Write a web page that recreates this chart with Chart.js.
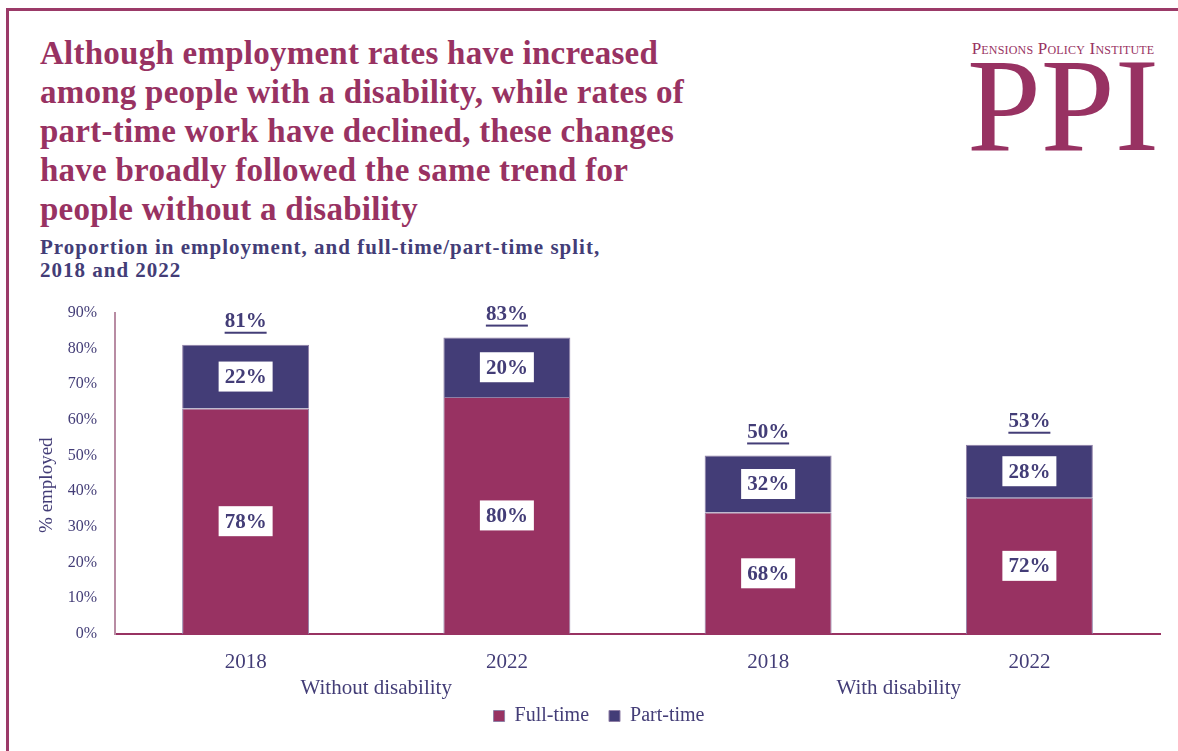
<!DOCTYPE html>
<html>
<head>
<meta charset="utf-8">
<script src="https://cdn.jsdelivr.net/npm/chart.js@4.4.1/dist/chart.umd.min.js"></script>
<style>
  html, body { margin: 0; padding: 0; background: #fff; }
  body { width: 1178px; height: 751px; position: relative; overflow: hidden;
         font-family: "Palatino Linotype", "Book Antiqua", Palatino, "Liberation Serif", serif; }
  .frame { position: absolute; left: 6px; top: 8px; width: 1300px; height: 900px;
           border: 3px solid #9b3a68; box-sizing: border-box; }
  h1 { position: absolute; left: 40px; top: 34px; margin: 0; width: 720px;
       font-size: 33px; line-height: 39px; letter-spacing: 0.25px; font-weight: bold; color: #983262; }
  h2 { position: absolute; left: 40px; top: 236px; margin: 0; width: 680px;
       font-size: 21px; line-height: 23px; letter-spacing: 1px; font-weight: bold; color: #433d77; }
  .logo { position: absolute; left: 958px; top: 40px; width: 210px; text-align: center; color: #983262; }
  .logo .name { font-size: 17px; font-variant: small-caps; letter-spacing: 0.2px; line-height: 18px; }
  .logo .big { font-size: 133px; line-height: 100px; margin-top: -3px; }
  .chart-wrap { position: absolute; left: 0; top: 285px; width: 1178px; height: 466px; }
</style>
</head>
<body>
<div class="frame"></div>
<h1>Although employment rates have increased<br>among people with a disability, while rates of<br>part-time work have declined, these changes<br>have broadly followed the same trend for<br>people without a disability</h1>
<h2>Proportion in employment, and full-time/part-time split,<br>2018 and 2022</h2>
<div class="logo"><div class="name">Pensions Policy Institute</div><div class="big">PPI</div></div>
<div class="chart-wrap"><canvas id="employmentChart"></canvas></div>
<script>
const groups = ['Without disability', 'With disability'];
const years = ['2018', '2022', '2018', '2022'];
const employed = [81, 83, 50, 53];          // % of people in employment
const fullTimeShare = [78, 80, 68, 72];     // % of employed working full-time
const partTimeShare = [22, 20, 32, 28];     // % of employed working part-time
const yTicks = [0, 10, 20, 30, 40, 50, 60, 70, 80, 90];

const FONT = '"Palatino Linotype", "Book Antiqua", Palatino, "Liberation Serif", serif';
const MAROON = '#983262';
const NAVY = '#433d77';

// segment heights are the share of the employed total
const fullTimeValues = employed.map((t, i) => t * fullTimeShare[i] / 100);
const partTimeValues = employed.map((t, i) => t * partTimeShare[i] / 100);

// white boxed share labels inside the bars, underlined totals above them
const barLabels = {
    id: 'barLabels',
    afterDatasetsDraw(chart) {
        const ctx = chart.ctx;
        ctx.save();
        ctx.textAlign = 'center';
        ctx.textBaseline = 'middle';
        ctx.font = 'bold 21px ' + FONT;
        const shares = [fullTimeShare, partTimeShare];
        chart.data.datasets.forEach((ds, d) => {
            chart.getDatasetMeta(d).data.forEach((bar, i) => {
                const text = shares[d][i] + '%';
                const cy = (bar.y + bar.base) / 2;
                const w = ctx.measureText(text).width + 12;
                ctx.fillStyle = '#fff';
                ctx.fillRect(bar.x - w / 2, cy - 15, w, 30);
                ctx.fillStyle = NAVY;
                ctx.fillText(text, bar.x, cy + 1);
            });
        });
        const top = chart.getDatasetMeta(1).data;
        top.forEach((bar, i) => {
            const text = employed[i] + '%';
            const y = bar.y - 23;
            const w = ctx.measureText(text).width;
            ctx.fillStyle = NAVY;
            ctx.fillText(text, bar.x, y);
            ctx.fillRect(bar.x - w / 2, y + 10, w, 2);
        });
        ctx.restore();
    }
};

// group names under the year labels, placed on the x2 category scale
const groupLabels = {
    id: 'groupLabels',
    afterDraw(chart) {
        const x2 = chart.scales.x2;
        const ctx = chart.ctx;
        ctx.save();
        ctx.textAlign = 'center';
        ctx.textBaseline = 'middle';
        ctx.font = '21px ' + FONT;
        ctx.fillStyle = NAVY;
        x2.ticks.forEach((t, i) => {
            ctx.fillText(x2.getLabelForValue(t.value), x2.getPixelForTick(i), x2.top + 14);
        });
        ctx.restore();
    }
};

const ctx = document.getElementById('employmentChart').getContext('2d');
new Chart(ctx, {
    type: 'bar',
    data: {
        labels: years,
        datasets: [
            { label: 'Full-time', data: fullTimeValues, backgroundColor: MAROON,
              borderColor: '#8f7fa6', borderWidth: 1, barPercentage: 0.486, categoryPercentage: 1 },
            { label: 'Part-time', data: partTimeValues, backgroundColor: NAVY,
              borderColor: '#8f7fa6', borderWidth: 1, barPercentage: 0.486, categoryPercentage: 1 }
        ]
    },
    options: {
        responsive: true,
        maintainAspectRatio: false,
        animation: false,
        layout: { padding: { top: 0, right: 18, left: 38, bottom: 15 } },
        plugins: {
            legend: {
                position: 'bottom',
                labels: {
                    boxWidth: 11, boxHeight: 11, padding: 20,
                    color: NAVY, font: { family: FONT, size: 20 }
                }
            },
            tooltip: { enabled: false }
        },
        scales: {
            x: {
                stacked: true,
                weight: 1,
                grid: { display: false, drawTicks: false },
                border: { color: MAROON, width: 2 },
                ticks: { color: NAVY, font: { family: FONT, size: 21 }, padding: 16 },
                afterFit(scale) { scale.height = 40; }
            },
            x2: {
                type: 'category',
                labels: groups,
                offset: true,
                position: 'bottom',
                weight: 2,
                grid: { display: false, drawTicks: false },
                border: { display: false },
                ticks: { display: false },
                afterFit(scale) { scale.height = 12; }
            },
            y: {
                stacked: true,
                min: 0,
                max: 90,
                afterBuildTicks(scale) { scale.ticks = yTicks.map(v => ({ value: v })); },
                grid: { display: false, drawTicks: false },
                border: { color: '#b88ca3', width: 2 },
                ticks: { color: NAVY, font: { family: FONT, size: 16 }, padding: 18,
                         callback: v => v + '%' },
                title: { display: true, text: '% employed\u00a0\u00a0\u00a0\u00a0\u00a0', color: NAVY,
                         font: { family: FONT, size: 19 }, padding: { top: -2, bottom: 0 } },
                afterFit(scale) { scale.width = 77; }
            }
        }
    },
    plugins: [barLabels, groupLabels]
});
</script>
</body>
</html>
